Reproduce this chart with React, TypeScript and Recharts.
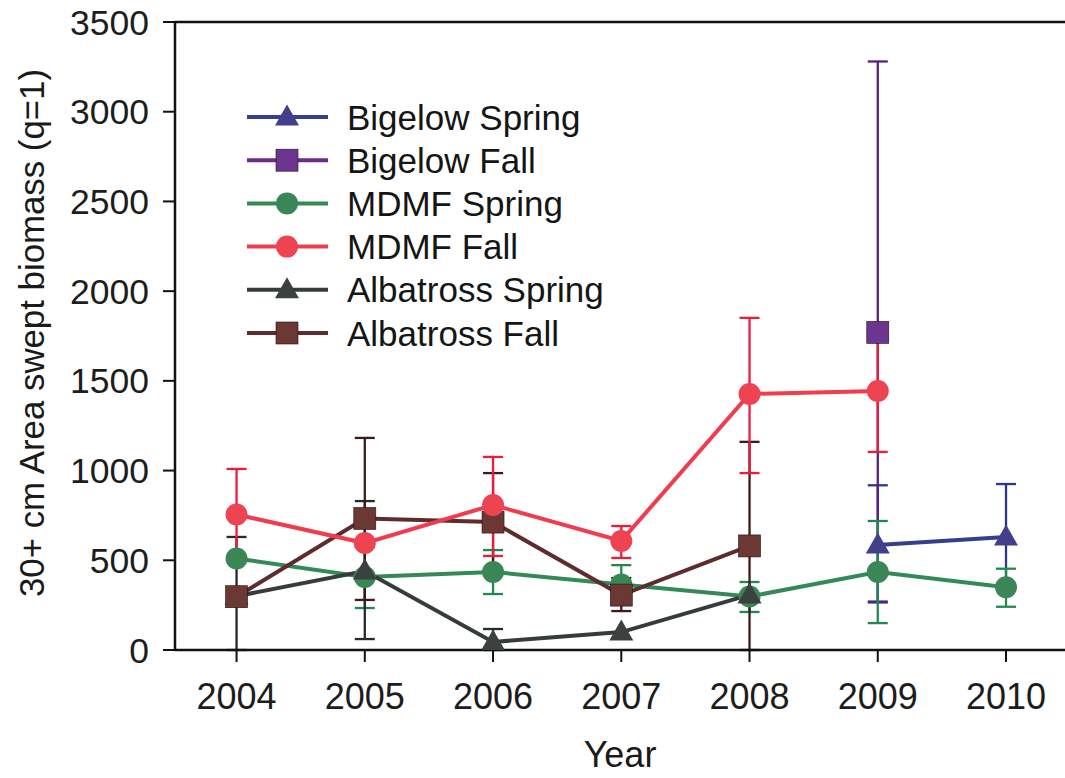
import React from 'react';
import { LineChart, Line, XAxis, YAxis, ErrorBar, ReferenceLine } from 'recharts';

// values (null = no survey that year)
const years = [2004, 2005, 2006, 2007, 2008, 2009, 2010];
const yTicks = [0, 500, 1000, 1500, 2000, 2500, 3000, 3500];

const bigelowSpring = [null, null, null, null, null, 585, 630];
const bigelowSpringErr = [null, null, null, null, null, [315, 333], [295, 295]];

const bigelowFall = [null, null, null, null, null, 1770, null];
const bigelowFallErr = [null, null, null, null, null, [1505, 1510], null];

const mdmfSpring = [510, 407, 435, 365, 298, 435, 350];
const mdmfSpringErr = [null, [173, 167], [123, 122], [114, 108], [86, 81], [285, 284], [109, 103]];

const mdmfFall = [755, 596, 808, 608, 1427, 1444, null];
const mdmfFallErr = [[258, 254], null, [284, 268], [95, 83], [441, 424], [340, 317], null];

const albatrossSpring = [300, 440, 45, 100, 307, null, null];
const albatrossSpringErr = [[300, 330], [379, 390], [45, 72], null, null, null, null];

const albatrossFall = [297, 733, 713, 306, 580, null, null];
const albatrossFallErr = [null, [454, 449], [268, 273], [89, 95], [580, 580], null, null];

const FONT = '"Liberation Sans", Arial, sans-serif';

// draw order: bottom first
const series = [
  { key: 'bs', name: 'Bigelow Spring', vals: bigelowSpring, errs: bigelowSpringErr, line: '#34408f', fill: '#433f8b', err: '#2a3690', shape: 'triangle' },
  { key: 'bf', name: 'Bigelow Fall', vals: bigelowFall, errs: bigelowFallErr, line: '#6a2d8f', fill: '#6c3591', err: '#55208a', shape: 'square' },
  { key: 'ms', name: 'MDMF Spring', vals: mdmfSpring, errs: mdmfSpringErr, line: '#348a57', fill: '#3a8656', err: '#1f8a4f', shape: 'circle' },
  { key: 'as', name: 'Albatross Spring', vals: albatrossSpring, errs: albatrossSpringErr, line: '#363b3b', fill: '#3b4040', err: '#262a2a', shape: 'triangle' },
  { key: 'af', name: 'Albatross Fall', vals: albatrossFall, errs: albatrossFallErr, line: '#5e2c2c', fill: '#6b3834', err: '#3e1a1c', shape: 'square' },
  { key: 'mf', name: 'MDMF Fall', vals: mdmfFall, errs: mdmfFallErr, line: '#f03c4e', fill: '#ee4451', err: '#ee1c3c', shape: 'circle' },
];

// legend goes in the figure's own order
const legendOrder = ['bs', 'bf', 'ms', 'mf', 'as', 'af'];

const rows = years.map((year, i) => {
  const row: any = { year };
  series.forEach(s => {
    row[s.key] = s.vals[i];
    row[s.key + 'Err'] = s.errs[i];
  });
  return row;
});

const Marker = ({ shape, cx, cy, fill }: any) => {
  if (shape === 'circle') return <circle cx={cx} cy={cy} r={11} fill={fill} />;
  if (shape === 'square') return <rect x={cx - 11} y={cy - 11} width={22} height={22} fill={fill} stroke="#2a1010" strokeWidth={0.6} />;
  return <polygon points={`${cx},${cy - 12.5} ${cx - 12},${cy + 8.5} ${cx + 12},${cy + 8.5}`} fill={fill} />;
};

const LegendBox = () => (
  <svg width={440} height={270} style={{ display: 'block' }}>
    {legendOrder.map((k, i) => {
      const s = series.find(d => d.key === k)!;
      const y = 22 + i * 43.2;
      return (
        <g key={k}>
          <line x1={7} x2={88} y1={y} y2={y} stroke={s.line} strokeWidth={4} />
          <Marker shape={s.shape} cx={47} cy={y} fill={s.fill} />
          <text x={107} y={y + 12.5} fontSize={35} fontFamily={FONT} fill="#151515">{s.name}</text>
        </g>
      );
    })}
  </svg>
);

const YLabel = () => (
  <text
    x={31}
    y={333}
    transform="rotate(-90, 31, 333)"
    textAnchor="middle"
    dominantBaseline="central"
    fontSize={34.8}
    fontFamily={FONT}
    fill="#1a1a1a"
  >
    30+ cm Area swept biomass (q=1)
  </text>
);

export default function App() {
  const yTickStyle = { fontSize: 35.5, fontFamily: FONT, fill: '#1d1d1d' };
  const xTickStyle = { fontSize: 36, fontFamily: FONT, fill: '#1d1d1d' };
  return (
    <div style={{ position: 'absolute', left: 0, top: 0, width: 1065, height: 778, background: '#fff' }}>
      <LineChart width={1065} height={778} data={rows} margin={{ top: 22, right: 0, left: 0, bottom: 0 }}>
        <XAxis
          dataKey="year"
          type="number"
          domain={[2003.52, 2010.46]}
          allowDataOverflow
          ticks={years}
          height={128}
          tickSize={12}
          tickMargin={21}
          tick={xTickStyle}
          axisLine={{ stroke: '#111', strokeWidth: 2.5 }}
          tickLine={{ stroke: '#111', strokeWidth: 2 }}
          label={{ value: 'Year', position: 'insideBottom', offset: 11, fontSize: 36, fontFamily: FONT, fill: '#1a1a1a' }}
        />
        <YAxis
          type="number"
          domain={[0, 3500]}
          allowDataOverflow
          ticks={yTicks}
          width={175}
          tickSize={12}
          tickMargin={14}
          tick={yTickStyle}
          axisLine={{ stroke: '#111', strokeWidth: 2.5 }}
          tickLine={{ stroke: '#111', strokeWidth: 2 }}
          label={<YLabel />}
        />
        <ReferenceLine y={3500} stroke="#111" strokeWidth={2.5} />
        {series.map(s => (
          <Line
            key={s.key}
            dataKey={s.key}
            name={s.name}
            stroke={s.line}
            strokeWidth={4}
            isAnimationActive={false}
            dot={(p: any) =>
              p.cy == null || Number.isNaN(p.cy) || p.value == null ? (
                <g key={`${s.key}-${p.index}`} />
              ) : (
                <Marker key={`${s.key}-${p.index}`} shape={s.shape} cx={p.cx} cy={p.cy} fill={s.fill} />
              )
            }
            activeDot={false}
          >
            <ErrorBar dataKey={s.key + 'Err'} direction="y" width={10} stroke={s.err} strokeWidth={2.3} />
          </Line>
        ))}
      </LineChart>
      <div style={{ position: 'absolute', left: 240, top: 95 }}>
        <LegendBox />
      </div>
    </div>
  );
}
